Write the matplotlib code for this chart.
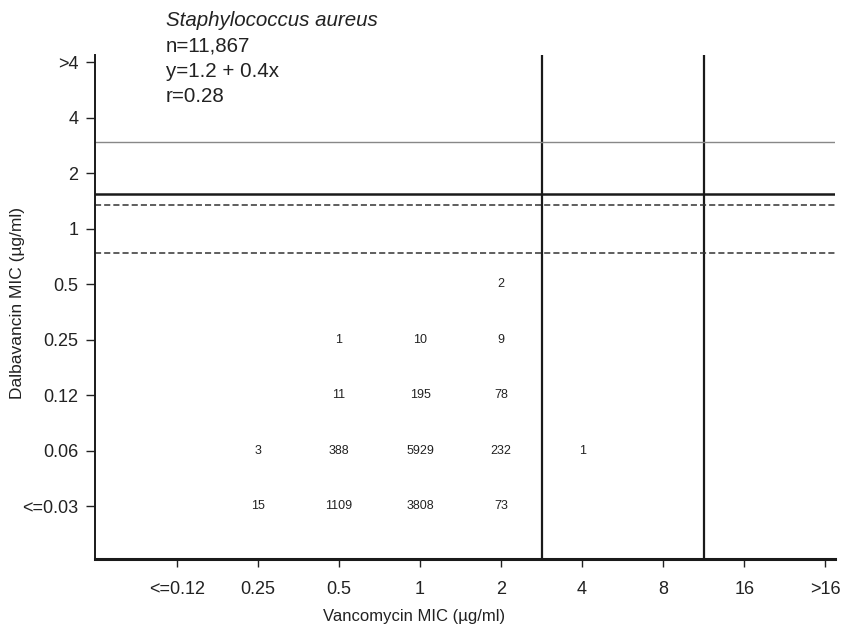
import matplotlib
matplotlib.use("Agg")
import matplotlib.pyplot as plt

x_labels = ["<=0.12", "0.25", "0.5", "1", "2", "4", "8", "16", ">16"]
y_labels = ["<=0.03", "0.06", "0.12", "0.25", "0.5", "1", "2", "4", ">4"]

# counts: (x index, y index, count)
cell_x = [1, 2, 3, 4, 1, 2, 3, 4, 5, 2, 3, 4, 2, 3, 4, 4]
cell_y = [0, 0, 0, 0, 1, 1, 1, 1, 1, 2, 2, 2, 3, 3, 3, 4]
cell_n = [15, 1109, 3808, 73, 3, 388, 5929, 232, 1, 11, 195, 78, 1, 10, 9, 2]

vert_lines = [4.5, 6.5]
h_solid = 5.62
h_dashed = [5.42, 4.56]
h_gray = 6.56

annot = ["n=11,867", "y=1.2 + 0.4x", "r=0.28"]

tick_font = ["Liberation Sans", "DejaVu Sans"]

fig = plt.figure(figsize=(8.44, 6.32), dpi=100)
ax = fig.add_axes([95/844, (632-559)/632, (835-95)/844, (559-55)/632])

ax.set_xlim(-1.01, 8.12)
ax.set_ylim(-0.95, 8.13)

for xi, yi, n in zip(cell_x, cell_y, cell_n):
    ax.text(xi, yi, str(n), ha="center", va="center", fontsize=9,
            family=["Liberation Sans", "DejaVu Sans"], color="#222222")

for v in vert_lines:
    ax.axvline(v, color="#1a1a1a", lw=1.6)
ax.axhline(h_solid, color="#1a1a1a", lw=1.8)
for h in h_dashed:
    ax.axhline(h, color="#333333", lw=1.1, ls=(0, (4, 2)))
ax.axhline(h_gray, color="#888888", lw=1.0)

ax.set_xticks(range(len(x_labels)))
ax.set_xticklabels(x_labels)
ax.set_yticks(range(len(y_labels)))
ax.set_yticklabels(y_labels)
for lab in ax.get_xticklabels() + ax.get_yticklabels():
    lab.set_family(tick_font)
    lab.set_fontsize(13)
    lab.set_color("#222222")
ax.tick_params(axis="x", direction="out", length=6, width=1.0, pad=10, color="#222222")
ax.tick_params(axis="y", direction="out", length=6.5, width=1.0, pad=5.5, color="#222222")

for s in ["top", "right"]:
    ax.spines[s].set_visible(False)
ax.spines["left"].set_linewidth(1.4)
ax.spines["bottom"].set_linewidth(2.2)
ax.spines["left"].set_color("#1a1a1a")
ax.spines["bottom"].set_color("#1a1a1a")

fig.text(414/844, 1 - 616/632, "Vancomycin MIC (µg/ml)", ha="center", va="center",
         fontsize=12, family=tick_font, color="#222222")
fig.text(18/844, 1 - 303/632, "Dalbavancin MIC (µg/ml)", ha="center", va="center",
         rotation=90, fontsize=12.5, family=tick_font, color="#222222")

fig.text(166/844, 1 - 21/632, "Staphylococcus aureus", ha="left", va="center",
         fontsize=14.8, style="italic", family=["Liberation Sans", "DejaVu Sans"], color="#222222")
for i, t in enumerate(annot):
    fig.text(166/844, 1 - (46 + 25.5*i)/632, t, ha="left", va="center",
             fontsize=14.8, family=["Liberation Sans", "DejaVu Sans"], color="#222222")

fig.savefig("out.png", dpi=100)
